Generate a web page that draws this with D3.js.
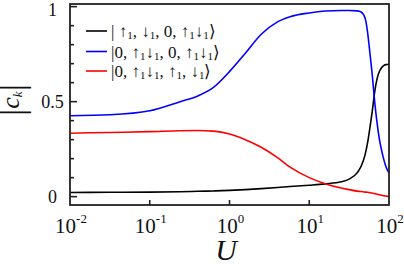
<!DOCTYPE html>
<html>
<head>
<meta charset="utf-8">
<script src="https://cdn.jsdelivr.net/npm/d3@7"></script>
<style>
  html, body { margin: 0; padding: 0; background: #fff; }
</style>
</head>
<body>
<svg id="chart" width="404" height="264"></svg>
<script>
// U values (log axis)
const U = [0.01, 0.0316, 0.1, 0.24, 0.4, 0.63, 1, 1.58, 2.5, 4, 5.75, 10, 15.8, 25.1, 31.6,
           39.8, 44.7, 50.1, 53.7, 57.5, 61.7, 66.1, 70.8, 75.9, 83.2, 91.2, 100];

// |c_k| for each basis state
const blackVals = [0.022, 0.023, 0.024, 0.026, 0.028, 0.030, 0.033, 0.037, 0.042, 0.048, 0.053, 0.060, 0.067,
                   0.078, 0.092, 0.125, 0.16, 0.22, 0.28, 0.36, 0.45, 0.55, 0.62, 0.66, 0.685, 0.695, 0.697];
const blueVals  = [0.426, 0.431, 0.452, 0.50, 0.53, 0.575, 0.658, 0.755, 0.855, 0.92, 0.947, 0.967, 0.977,
                   0.98, 0.98, 0.978, 0.972, 0.94, 0.87, 0.76, 0.64, 0.50, 0.39, 0.30, 0.22, 0.16, 0.124];
const redVals   = [0.334, 0.338, 0.342, 0.347, 0.348, 0.345, 0.33, 0.30, 0.26, 0.205, 0.155, 0.10, 0.068,
                   0.045, 0.037, 0.029, 0.027, 0.024, 0.023, 0.021, 0.019, 0.016, 0.013, 0.010, 0.006, 0.003, 0.0];

const series = [
  { name: 'black', color: '#000000', values: blackVals,
    label: ['| ↑', '1', ', ↓', '1', ', 0, ↑', '1', '↓', '1', '⟩'] },
  { name: 'blue', color: '#0000ff', values: blueVals,
    label: ['|0, ↑', '1', '↓', '1', ', 0, ↑', '1', '↓', '1', '⟩'] },
  { name: 'red', color: '#ff0000', values: redVals,
    label: ['|0, ↑', '1', '↓', '1', ', ↑', '1', ', ↓', '1', '⟩'] }
];

const xTicks = [0.01, 0.1, 1, 10, 100];
const xExps  = ['-2', '-1', '0', '1', '2'];
const yMajor = [0, 0.5, 1];
const yMajorLabels = ['0', '0.5', '1'];
const yMinor = [0.1, 0.2, 0.3, 0.4, 0.6, 0.7, 0.8, 0.9];

const FONT = 'Liberation Serif';
const svg = d3.select('#chart');
const L = 70, R = 389, T = 4, B = 205;

const x = d3.scaleLog().domain([0.01, 100]).range([L, R]);
const y = d3.scaleLinear().domain([-0.044, 1.014]).range([B, T]);

// curves
const line = d3.line()
  .x((d, i) => x(U[i]))
  .y(d => y(d))
  .curve(d3.curveMonotoneX);

svg.append('g').selectAll('path')
  .data(series)
  .enter().append('path')
  .attr('d', s => line(s.values))
  .attr('fill', 'none')
  .attr('stroke', s => s.color)
  .attr('stroke-width', 1.6);

// frame
svg.append('rect')
  .attr('x', L).attr('y', T)
  .attr('width', R - L).attr('height', B - T)
  .attr('fill', 'none')
  .attr('stroke', '#222')
  .attr('stroke-width', 1.8);

// y ticks (inside, left only)
svg.append('g').selectAll('line.maj')
  .data(yMajor).enter().append('line')
  .attr('x1', L).attr('x2', L + 7)
  .attr('y1', d => y(d)).attr('y2', d => y(d))
  .attr('stroke', '#222').attr('stroke-width', 1.6);
svg.append('g').selectAll('line.min')
  .data(yMinor).enter().append('line')
  .attr('x1', L).attr('x2', L + 4)
  .attr('y1', d => y(d)).attr('y2', d => y(d))
  .attr('stroke', '#222').attr('stroke-width', 1.6);

svg.append('g').selectAll('text')
  .data(yMajor).enter().append('text')
  .attr('font-family', FONT)
  .attr('x', 52.5)
  .attr('y', d => Math.max(y(d) + 6, 16))
  .attr('text-anchor', 'middle')
  .attr('font-size', 18)
  .attr('fill', '#111')
  .text((d, i) => yMajorLabels[i]);

// x ticks (inside, bottom only)
svg.append('g').selectAll('line')
  .data(xTicks.slice(1, -1)).enter().append('line')
  .attr('x1', d => x(d)).attr('x2', d => x(d))
  .attr('y1', B).attr('y2', B - 5)
  .attr('stroke', '#222').attr('stroke-width', 1.6);

const xl = svg.append('g').selectAll('text')
  .data(xTicks).enter().append('text')
  .attr('font-family', FONT)
  .attr('x', d => x(d) + 1)
  .attr('y', 233)
  .attr('text-anchor', 'middle')
  .attr('font-size', 21)
  .attr('fill', '#111');
xl.append('tspan').text('10');
xl.append('tspan')
  .attr('font-size', 13)
  .attr('dy', -10)
  .text((d, i) => xExps[i]);

// axis titles
svg.append('text')
  .attr('font-family', FONT)
  .attr('x', 226).attr('y', 260)
  .attr('text-anchor', 'middle')
  .attr('font-size', 30)
  .attr('font-style', 'italic')
  .attr('fill', '#111')
  .text('U');

const yt = svg.append('text')
  .attr('font-family', FONT)
  .attr('transform', 'translate(23,100) rotate(-90)')
  .attr('text-anchor', 'middle')
  .attr('fill', '#111');
yt.append('tspan').attr('font-size', 37).text('|');
yt.append('tspan').attr('font-size', 26).attr('font-style', 'italic').attr('dy', -4).text('c');
yt.append('tspan').attr('font-size', 13).attr('font-style', 'italic').attr('dy', 3).text('k');
yt.append('tspan').attr('font-size', 37).attr('dy', 1).text('|');

// legend
const rowY = [31, 51.5, 71];
const lg = svg.append('g').selectAll('g')
  .data(series).enter().append('g')
  .attr('transform', (s, i) => `translate(0,${rowY[i]})`);
lg.append('line')
  .attr('x1', 86).attr('x2', 107)
  .attr('y1', 0).attr('y2', 0)
  .attr('stroke', s => s.color)
  .attr('stroke-width', 1.6);
const lt = lg.append('text')
  .attr('font-family', FONT)
  .attr('x', 111)
  .attr('y', 6)
  .attr('font-size', 17)
  .attr('fill', '#111');
lt.each(function (s) {
  const t = d3.select(this);
  s.label.forEach((part, j) => {
    const sub = j % 2 === 1;
    t.append('tspan')
      .attr('font-size', sub ? 11 : 17)
      .attr('baseline-shift', sub ? '-2' : null)
      .text(part);
  });
});
</script>
</body>
</html>
